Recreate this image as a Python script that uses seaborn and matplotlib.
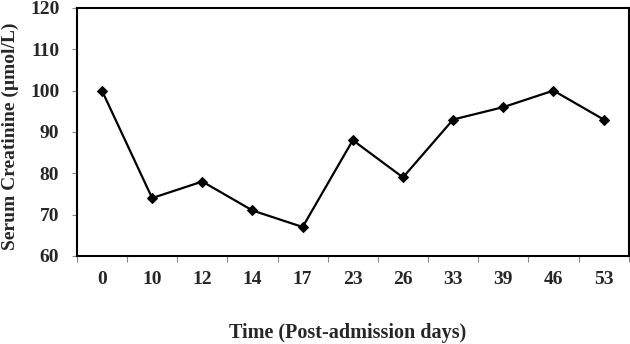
import matplotlib
matplotlib.use("Agg")
import matplotlib.pyplot as plt
import seaborn as sns
import pandas as pd
from matplotlib.ticker import FixedLocator, NullFormatter

days = ["0", "10", "12", "14", "17", "23", "26", "33", "39", "46", "53"]
creatinine = [100, 74, 78, 71, 67, 88, 79, 93, 96, 100, 93]

sns.set_theme(style="ticks")
plt.rcParams['font.family'] = ['Liberation Serif', 'DejaVu Serif']
plt.rcParams['font.weight'] = 'bold'

df = pd.DataFrame({"pos": range(len(days)), "day": days, "val": creatinine})

fig = plt.figure(figsize=(6.3, 3.44), dpi=100)
ax = fig.add_axes([0.122, 0.256, 0.876, 0.721])
sns.lineplot(data=df, x="pos", y="val", ax=ax, color="black", linewidth=1.6,
             marker="D", markersize=5.5, markeredgecolor="black", markerfacecolor="black")

ax.set_xlim(-0.5, len(days) - 0.5)
ax.set_ylim(60, 120)
ax.set_yticks(range(60, 121, 10))
ax.xaxis.set_major_locator(FixedLocator([i - 0.5 for i in range(len(days) + 1)]))
ax.xaxis.set_major_formatter(NullFormatter())
ax.xaxis.set_minor_locator(FixedLocator(list(range(len(days)))))
ax.set_xticklabels(days, minor=True)
ax.tick_params(axis='x', which='major', length=4.5, width=0.8, color='#888888', direction='out')
ax.tick_params(axis='x', which='minor', length=0, pad=11, labelsize=14)
ax.tick_params(axis='y', length=3.6, width=0.8, color='#888888', direction='out', labelsize=14, pad=9)
for lab in ax.get_xticklabels(minor=True) + ax.get_yticklabels():
    lab.set_fontweight('bold')

for s in ax.spines.values():
    s.set_visible(True)
    s.set_color('black')
    s.set_linewidth(1.5)

ax.set_xlabel("Time (Post-admission days)", fontsize=14.5, fontweight='bold')
ax.xaxis.label.set_va('bottom')
ax.xaxis.set_label_coords(0.49, -0.350)
ax.set_ylabel("Serum Creatinine (µmol/L)", fontsize=14, fontweight='bold')
ax.yaxis.label.set_va('center')
ax.yaxis.set_label_coords(-(77 - 10) / 552, 0.482)

fig.savefig("out.png", dpi=100)
